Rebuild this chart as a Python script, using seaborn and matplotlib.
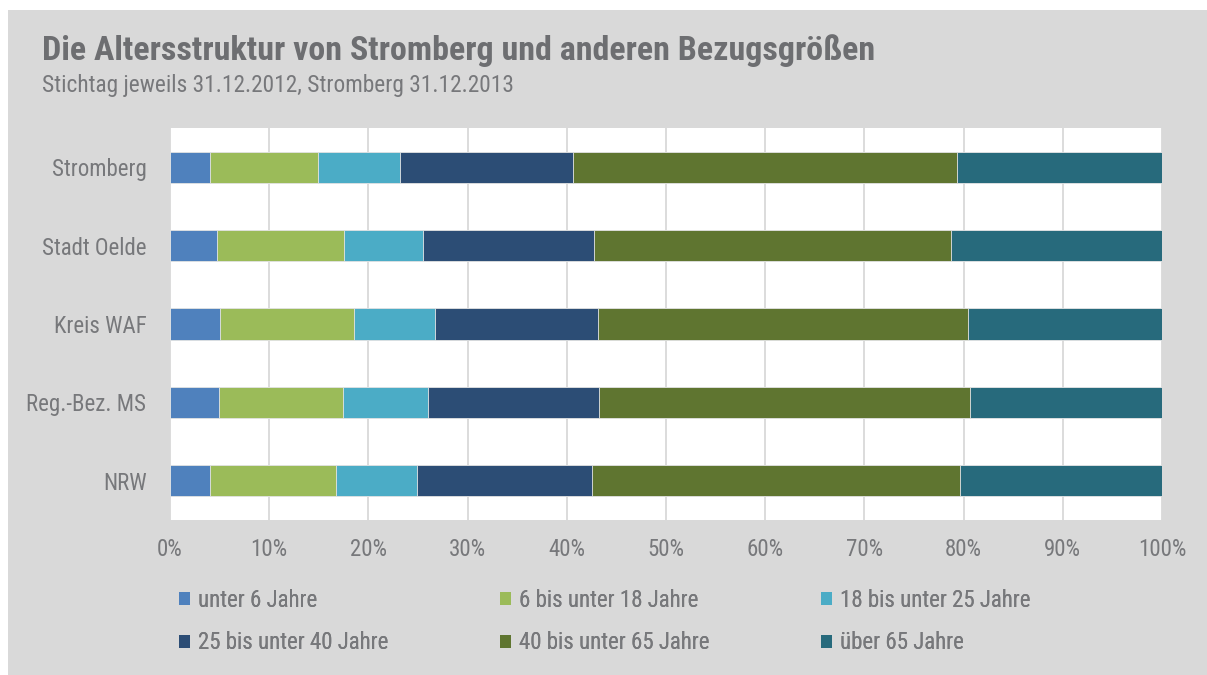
import numpy as np
import pandas as pd
import matplotlib
matplotlib.use("Agg")
import matplotlib.pyplot as plt
from matplotlib.patches import Patch, Rectangle
import seaborn as sns

# --- data (share in % per age group) ---
regions = ["Stromberg", "Stadt Oelde", "Kreis WAF", "Reg.-Bez. MS", "NRW"]
age_groups = ["unter 6 Jahre", "6 bis unter 18 Jahre", "18 bis unter 25 Jahre",
              "25 bis unter 40 Jahre", "40 bis unter 65 Jahre", "über 65 Jahre"]
unter_6 = [4.0, 4.7, 5.0, 4.9, 4.0]
von_6_bis_18 = [10.9, 12.8, 13.5, 12.5, 12.7]
von_18_bis_25 = [8.3, 8.0, 8.2, 8.6, 8.2]
von_25_bis_40 = [17.4, 17.2, 16.4, 17.2, 17.6]
von_40_bis_65 = [38.7, 36.0, 37.3, 37.4, 37.1]
ueber_65 = [20.7, 21.3, 19.6, 19.4, 20.4]
x_ticks = [0, 10, 20, 30, 40, 50, 60, 70, 80, 90, 100]

colors = ["#4F81BD", "#9BBB59", "#4BACC6", "#2C4D75", "#5F7530", "#276A7C"]
text_col = "#77787B"
bg_col = "#D9D9D9"

df = pd.DataFrame(
    [unter_6, von_6_bis_18, von_18_bis_25, von_25_bis_40, von_40_bis_65, ueber_65],
    index=age_groups, columns=regions).T
cum = df.cumsum(axis=1)

sns.set_theme(style="white")
plt.rcParams["font.family"] = ["Roboto Condensed", "Roboto", "DejaVu Sans"]

fig = plt.figure(figsize=(12.07, 6.75), dpi=100)
fig.patch.set_facecolor("white")
# gray panel behind everything
fig.patches.append(Rectangle((8 / 1207, 0), 1, 1 - 10 / 675, transform=fig.transFigure,
                             facecolor=bg_col, edgecolor="none", zorder=-10))

ax = fig.add_axes([170 / 1207, 1 - 520 / 675, 992 / 1207, 392 / 675])
ax.set_facecolor("white")

# stacked bars: draw cumulative totals from the widest down
for i in range(len(age_groups) - 1, -1, -1):
    sns.barplot(x=cum[age_groups[i]].values, y=regions, orient="h",
                color=colors[i], width=0.4, saturation=1,
                edgecolor="#E6E6E6", linewidth=0.6, ax=ax, zorder=3)

ax.set_xlim(0, 100)
ax.set_ylim(4.5, -0.5)
ax.set_xticks(x_ticks)
ax.set_xticklabels([f"{t}%" for t in x_ticks])
ax.grid(axis="x", color=bg_col, linewidth=1.3, zorder=0)
ax.grid(axis="y", visible=False)
for s in ax.spines.values():
    s.set_visible(False)
ax.tick_params(axis="both", length=0, labelsize=16.5, labelcolor=text_col)
ax.tick_params(axis="x", pad=13)
ax.tick_params(axis="y", pad=17)
ax.set_xlabel("")
ax.set_ylabel("")

# title and subtitle
fig.text(42 / 1207, 1 - 60 / 675, "Die Altersstruktur von Stromberg und anderen Bezugsgrößen",
         fontsize=24.5, fontweight="bold", color="#6D6E71", ha="left", va="baseline")
fig.text(42 / 1207, 1 - 92 / 675, "Stichtag jeweils 31.12.2012, Stromberg 31.12.2013",
         fontsize=16.8, color=text_col, ha="left", va="baseline")

# legend: three columns, two rows
col_x = [179, 500, 821]
for c in range(3):
    handles = [Patch(facecolor=colors[c], edgecolor="none"),
               Patch(facecolor=colors[c + 3], edgecolor="none")]
    leg = fig.legend(handles, [age_groups[c], age_groups[c + 3]],
                     loc="upper left", bbox_to_anchor=(col_x[c] / 1207, 1 - 589 / 675),
                     frameon=False, fontsize=16.5, labelcolor=text_col,
                     handlelength=0.5, handleheight=0.5, handletextpad=0.35,
                     labelspacing=0.85, borderaxespad=0, borderpad=0)
    fig.add_artist(leg)

fig.savefig("out.png", dpi=100, facecolor=fig.get_facecolor())
